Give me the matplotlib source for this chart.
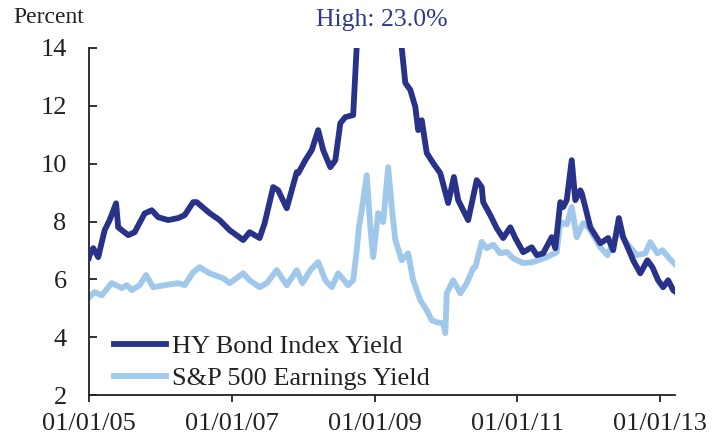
import matplotlib
matplotlib.use("Agg")
import matplotlib.pyplot as plt

# decimal years and yields (percent)
HY_T = [2005.00, 2005.01, 2005.06, 2005.13, 2005.22, 2005.29, 2005.38, 2005.41,
        2005.55, 2005.64, 2005.78, 2005.88, 2005.97, 2006.11, 2006.25, 2006.34,
        2006.46, 2006.51, 2006.69, 2006.83, 2006.97, 2007.16, 2007.25, 2007.39,
        2007.46, 2007.58, 2007.65, 2007.77, 2007.91, 2007.93, 2008.03, 2008.12,
        2008.21, 2008.28, 2008.38, 2008.45, 2008.52, 2008.59, 2008.70, 2008.73,
        2008.78, 2008.85, 2008.95, 2009.05, 2009.20, 2009.38, 2009.43, 2009.50,
        2009.57, 2009.61, 2009.66, 2009.73, 2009.82, 2009.92, 2010.03, 2010.11,
        2010.17, 2010.31, 2010.43, 2010.50, 2010.52, 2010.62, 2010.71, 2010.80,
        2010.90, 2010.97, 2011.08, 2011.20, 2011.27, 2011.36, 2011.48, 2011.53,
        2011.60, 2011.64, 2011.69, 2011.76, 2011.81, 2011.88, 2011.90, 2011.95,
        2012.02, 2012.16, 2012.27, 2012.34, 2012.42, 2012.48, 2012.58, 2012.62,
        2012.72, 2012.82, 2012.89, 2012.97, 2013.04, 2013.11, 2013.18, 2013.22]
HY_Y = [6.75, 6.84, 7.08, 6.77, 7.70, 8.05, 8.63, 7.80,
        7.53, 7.63, 8.28, 8.39, 8.15, 8.05, 8.12, 8.22,
        8.67, 8.67, 8.29, 8.05, 7.70, 7.36, 7.63, 7.43,
        7.94, 9.19, 9.08, 8.46, 9.71, 9.67, 10.12, 10.47,
        11.16, 10.47, 9.88, 10.12, 11.40, 11.61, 11.68, 13.13,
        15.5, 18.5, 23.0, 20.5, 17.0, 14.0, 12.79, 12.55,
        11.96, 11.16, 11.50, 10.37, 10.02, 9.67, 8.64, 9.54,
        8.74, 8.05, 9.43, 9.19, 8.67, 8.22, 7.77, 7.43,
        7.80, 7.43, 6.94, 7.11, 6.84, 6.90, 7.46, 7.08,
        8.67, 8.50, 8.74, 10.12, 8.74, 9.08, 8.98, 8.50,
        7.80, 7.25, 7.43, 7.01, 8.12, 7.46, 6.90, 6.66,
        6.21, 6.66, 6.42, 5.97, 5.73, 5.97, 5.63, 5.56]

SP_T = [2005.00, 2005.08, 2005.18, 2005.32, 2005.46, 2005.53, 2005.60, 2005.71,
        2005.80, 2005.90, 2006.06, 2006.25, 2006.34, 2006.46, 2006.55, 2006.69,
        2006.88, 2006.97, 2007.16, 2007.25, 2007.39, 2007.49, 2007.63, 2007.77,
        2007.91, 2007.99, 2008.10, 2008.21, 2008.31, 2008.40, 2008.49, 2008.63,
        2008.70, 2008.75, 2008.78, 2008.82, 2008.89, 2008.94, 2008.98, 2009.05,
        2009.12, 2009.19, 2009.24, 2009.29, 2009.38, 2009.47, 2009.54, 2009.64,
        2009.73, 2009.80, 2009.87, 2009.96, 2009.99, 2010.01, 2010.10, 2010.20,
        2010.29, 2010.38, 2010.41, 2010.50, 2010.57, 2010.66, 2010.76, 2010.85,
        2010.94, 2011.08, 2011.22, 2011.41, 2011.55, 2011.60, 2011.69, 2011.76,
        2011.83, 2011.92, 2011.99, 2012.02, 2012.16, 2012.26, 2012.34, 2012.41,
        2012.53, 2012.67, 2012.79, 2012.86, 2012.96, 2013.03, 2013.11, 2013.22]
SP_Y = [5.38, 5.56, 5.45, 5.87, 5.70, 5.80, 5.63, 5.80,
        6.15, 5.73, 5.80, 5.87, 5.80, 6.25, 6.42, 6.21,
        6.04, 5.87, 6.21, 5.97, 5.73, 5.87, 6.32, 5.80,
        6.32, 5.87, 6.32, 6.60, 5.97, 5.73, 6.21, 5.80,
        5.97, 7.01, 7.80, 8.39, 9.60, 7.80, 6.77, 8.29,
        7.98, 9.88, 8.50, 7.36, 6.66, 6.90, 5.97, 5.28,
        4.93, 4.59, 4.52, 4.48, 4.14, 5.52, 5.97, 5.52,
        5.87, 6.39, 6.42, 7.30, 7.08, 7.20, 6.90, 6.95,
        6.73, 6.56, 6.60, 6.77, 6.94, 7.98, 7.90, 8.50,
        7.46, 7.94, 7.80, 7.70, 7.11, 6.84, 7.25, 7.70,
        7.25, 6.84, 6.90, 7.29, 6.90, 7.01, 6.77, 6.49]

X_TICKS = [2005, 2007, 2009, 2011, 2013]
X_LABELS = ["01/01/05", "01/01/07", "01/01/09", "01/01/11", "01/01/13"]
Y_TICKS = [2, 4, 6, 8, 10, 12, 14]

DARK = "#283289"
LIGHT = "#A0C8EB"
TEXT = "#222222"

plt.rcParams["font.family"] = ["Liberation Serif", "DejaVu Serif"]

fig = plt.figure(figsize=(7.23, 4.40), dpi=100)
ax = fig.add_axes([0.123, 0.102, 0.811, 0.789])

ax.plot(HY_T, HY_Y, color=DARK, linewidth=4.2, solid_joinstyle="round",
        label="HY Bond Index Yield", zorder=3)
ax.plot(SP_T, SP_Y, color=LIGHT, linewidth=4.2, solid_joinstyle="round",
        label="S&P 500 Earnings Yield", zorder=2)

ax.set_xlim(2005.0, 2013.21)
ax.set_ylim(2, 14)
ax.set_xticks(X_TICKS)
ax.set_xticklabels(X_LABELS)
ax.set_yticks(Y_TICKS)

for side in ("top", "right"):
    ax.spines[side].set_visible(False)
for side in ("left", "bottom"):
    ax.spines[side].set_color(TEXT)
    ax.spines[side].set_linewidth(1.3)

ax.tick_params(axis="y", direction="in", length=6, width=1.3, pad=16,
               labelsize=19, colors=TEXT)
ax.tick_params(axis="x", direction="out", length=5, width=1.3, pad=8,
               labelsize=19, colors=TEXT)

fig.text(0.019, 0.96, "Percent", fontsize=17, color=TEXT, ha="left", va="center")
fig.text(0.528, 0.955, "High: 23.0%", fontsize=18.5, color="#2E3A8C",
         ha="center", va="center")

leg = ax.legend(loc="lower left", bbox_to_anchor=(0.033, 0.0), frameon=False,
                fontsize=19, handlelength=2.0, handletextpad=0.2,
                labelspacing=0.3, borderpad=0.2, borderaxespad=0.0)
for t in leg.get_texts():
    t.set_color(TEXT)

fig.savefig("out.png", dpi=100)
